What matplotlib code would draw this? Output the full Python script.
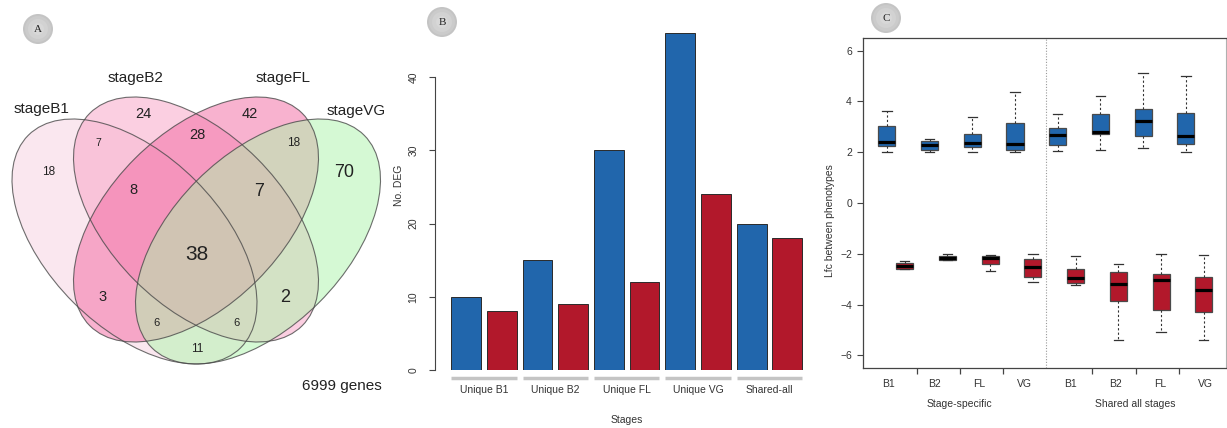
import numpy as np
import matplotlib.pyplot as plt
from matplotlib.patches import Ellipse, Circle
from matplotlib.transforms import blended_transform_factory

plt.rcParams["font.family"] = ["Liberation Sans", "DejaVu Sans"]

W, H = 1227, 428

# ---- Venn (A) ----
venn_sets = ["stageB1", "stageB2", "stageFL", "stageVG"]
venn_colors = ["#f7d1e1", "#f9a1c5", "#f367a1", "#adf5ab"]
venn_counts = [18, 24, 42, 70, 7, 28, 18, 8, 7, 38, 3, 2, 6, 6, 11]
venn_total = "6999 genes"

# ---- Barplot (B) ----
bar_groups = ["Unique B1", "Unique B2", "Unique FL", "Unique VG", "Shared-all"]
deg_up = [10, 15, 30, 46, 20]
deg_down = [8, 9, 12, 24, 18]

# ---- Boxplots (C): whislo, q1, med, q3, whishi ----
box_stages = ["B1", "B2", "FL", "VG", "B1", "B2", "FL", "VG"]
box_sections = ["Stage-specific", "Shared all stages"]
lfc_up = [
    (1.99, 2.23, 2.40, 3.04, 3.61),
    (2.00, 2.10, 2.27, 2.43, 2.53),
    (2.00, 2.20, 2.36, 2.70, 3.38),
    (2.00, 2.10, 2.32, 3.15, 4.37),
    (2.03, 2.27, 2.66, 2.96, 3.49),
    (2.07, 2.70, 2.81, 3.50, 4.20),
    (2.18, 2.62, 3.23, 3.70, 5.14),
    (2.00, 2.32, 2.62, 3.54, 5.01),
]
lfc_down = [
    (-2.61, -2.60, -2.48, -2.37, -2.30),
    (-2.26, -2.26, -2.18, -2.08, -2.00),
    (-2.66, -2.40, -2.16, -2.07, -2.03),
    (-3.11, -2.91, -2.51, -2.19, -2.01),
    (-3.23, -3.15, -2.97, -2.60, -2.07),
    (-5.38, -3.87, -3.21, -2.73, -2.39),
    (-5.09, -4.20, -3.03, -2.78, -2.02),
    (-5.38, -4.29, -3.44, -2.91, -2.03),
]

BLUE = "#2166ac"
RED = "#b2182b"


def px_axes(fig, left, top, right, bottom):
    ax = fig.add_axes([left / W, 1 - bottom / H, (right - left) / W, (bottom - top) / H])
    ax.patch.set_alpha(0)
    return ax


def badge(ax, cx, cy, letter):
    # soft grey disc, darker rim
    for r, c in [(15, "#c4c4c4"), (13, "#cbcbcb"), (10, "#d2d2d2"), (6, "#d8d8d8")]:
        ax.add_patch(Circle((cx, cy), r, facecolor=c, edgecolor="none", zorder=5))
    ax.text(cx, cy + 0.5, letter, family=["Liberation Serif", "DejaVu Serif"], fontsize=8,
            ha="center", va="center", color="#222222", zorder=6)


fig = plt.figure(figsize=(W / 100, H / 100), dpi=100)

# overlay in pixel units: venn + panel badges
ov = fig.add_axes([0, 0, 1, 1])
ov.set_xlim(0, W)
ov.set_ylim(H, 0)
ov.axis("off")

centers = [(134.5, 241.5), (196, 219.5), (196, 219.5), (258, 241.5)]
angles = [45, 45, -45, -45]
ell_w, ell_h = 300.4, 172.6
for (cx, cy), ang, col in zip(centers, angles, venn_colors):
    ov.add_patch(Ellipse((cx, cy), ell_w, ell_h, angle=ang, facecolor=col, alpha=0.5,
                         edgecolor="none"))
for (cx, cy), ang in zip(centers, angles):
    ov.add_patch(Ellipse((cx, cy), ell_w, ell_h, angle=ang, facecolor="none",
                         edgecolor="#4a4a4a", lw=0.8, alpha=0.8))

set_label_pos = [(41, 109), (136, 78), (283, 78), (356, 111)]
for name, (x, y) in zip(venn_sets, set_label_pos):
    ov.text(x, y, name, fontsize=11, ha="center", va="center", color="#222222")

region_pos = [(49, 172), (143, 114), (250, 114), (344, 172), (98, 143), (197, 135),
              (294, 143), (133, 190), (259, 191), (197, 254), (103, 297), (285, 297),
              (156, 323), (236, 323), (197, 349)]
region_size = [8.5, 10.5, 10.5, 13, 7.5, 10.5, 8.5, 10.5, 13, 15, 10.5, 13, 8, 8, 8.5]
for n, (x, y), fs in zip(venn_counts, region_pos, region_size):
    ov.text(x, y, str(n), fontsize=fs, ha="center", va="center", color="#222222")
ov.text(342, 386, venn_total, fontsize=11, ha="center", va="center", color="#222222")

badge(ov, 38, 29, "A")
badge(ov, 442, 22, "B")
badge(ov, 886, 18, "C")

# ---- B: grouped bars ----
axb = px_axes(fig, 435, 30, 810, 370)
unit_px = 29.75
axb.set_xlim(-10.2 / unit_px, (810 - 445.2) / unit_px)
axb.set_ylim(0, 340 / 7.317)
idx = np.arange(len(bar_groups))
up_x = 0.7 + 2.4 * idx
down_x = up_x + 1.2
axb.bar(up_x, deg_up, width=1.0, color=BLUE, edgecolor="#2a2a2a", lw=0.7)
axb.bar(down_x, deg_down, width=1.0, color=RED, edgecolor="#2a2a2a", lw=0.7)
for s in ["top", "right", "bottom"]:
    axb.spines[s].set_visible(False)
axb.spines["left"].set_bounds(0, 40)
axb.spines["left"].set_color("#444444")
axb.spines["left"].set_linewidth(0.8)
axb.set_xticks([])
axb.set_yticks([0, 10, 20, 30, 40])
axb.tick_params(axis="y", length=4, width=0.8, color="#444444", pad=8,
                labelsize=7.5, labelrotation=90, labelcolor="#333333")
for lbl in axb.get_yticklabels():
    lbl.set_va("center")
for g, name in enumerate(bar_groups):
    x0, x1 = up_x[g] - 0.5, down_x[g] + 0.5
    axb.plot([x0, x1], [-1.1, -1.1], color="#c4c4c4", lw=2.5, clip_on=False,
             solid_capstyle="butt")
    axb.text((x0 + x1) / 2, -2.75, name, fontsize=7.5, ha="center", va="center",
             color="#333333")
axb.text(6.1, -6.85, "Stages", fontsize=7.5, ha="center", va="center", color="#333333")
axb.text(-1.55, 25.3, "No. DEG", fontsize=7.5, rotation=90, ha="center", va="center",
         color="#333333")

# ---- C: log fold change boxplots ----
axc = px_axes(fig, 863, 38, 1226, 368)
axc.set_xlim(0.232, 8.73)
axc.set_ylim(-6.5, 6.5)
pairs = np.arange(1, len(box_stages) + 1)


def to_stats(rows):
    return [dict(whislo=r[0], q1=r[1], med=r[2], q3=r[3], whishi=r[4], fliers=[])
            for r in rows]


for rows, pos, col in [(lfc_up, pairs - 0.21, BLUE), (lfc_down, pairs + 0.21, RED)]:
    axc.bxp(to_stats(rows), positions=pos, widths=0.4, capwidths=0.22,
            patch_artist=True, showfliers=False, manage_ticks=False,
            boxprops=dict(facecolor=col, edgecolor="#4a4a4a", lw=0.9),
            medianprops=dict(color="black", lw=2.3, solid_capstyle="butt"),
            whiskerprops=dict(color="#333333", lw=0.8, ls=(0, (2, 2))),
            capprops=dict(color="#333333", lw=0.9))

axc.axvline(4.52, color="#999999", lw=0.8, ls=(0, (1, 1.5)))
axc.set_yticks([-6, -4, -2, 0, 2, 4, 6])
axc.tick_params(axis="y", length=4, width=0.8, color="#444444", pad=4,
                labelsize=7.5, labelcolor="#333333")
axc.set_xticks([1.5, 2.5, 3.5, 5.6, 6.62, 7.64])
axc.set_xticklabels([])
axc.tick_params(axis="x", length=4, width=0.9, color="#444444")
for s in ["left", "top", "bottom"]:
    axc.spines[s].set_color("#444444")
    axc.spines[s].set_linewidth(0.9)
axc.spines["right"].set_color("#b0b0b0")
axc.spines["right"].set_linewidth(0.8)

trc = blended_transform_factory(axc.transData, axc.transAxes)
stage_label_x = np.linspace(0.84, 8.26, len(box_stages))
for x, name in zip(stage_label_x, box_stages):
    axc.text(x, -0.048, name, transform=trc, fontsize=7.5, ha="center", va="center",
             color="#333333")
for x, name in zip([2.5, 6.6], box_sections):
    axc.text(x, -0.109, name, transform=trc, fontsize=7.5, ha="center", va="center",
             color="#333333")
axc.text(-0.091, 0.448, "Lfc between phenotypes", transform=axc.transAxes, fontsize=7.5,
         rotation=90, ha="center", va="center", color="#333333")

fig.savefig("out.png", dpi=100)
